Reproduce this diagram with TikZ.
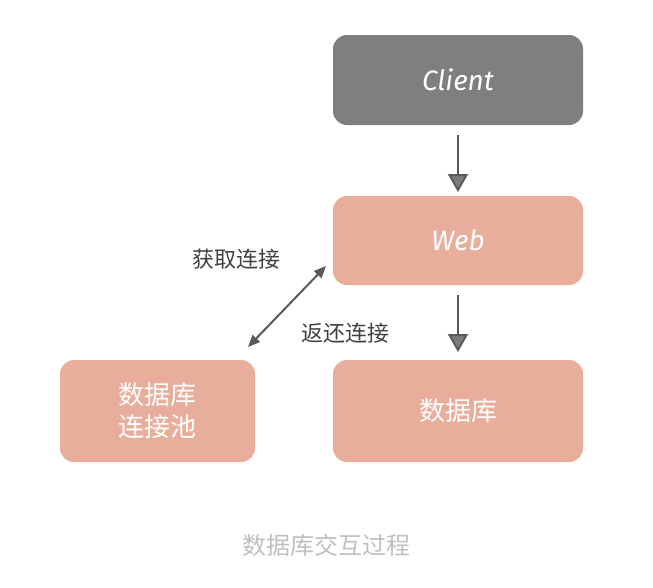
\documentclass[tikz,border=0pt]{standalone}
\usepackage{fontspec}
\newfontfamily\cjk{Noto Sans CJK SC}
\setmainfont{Fira Sans}
\usetikzlibrary{arrows.meta}
\definecolor{salmon}{HTML}{E8AE9B}
\definecolor{cgray}{HTML}{7F7F7F}
\definecolor{agray}{HTML}{5A5A5A}
\begin{document}
\begin{tikzpicture}[x=1pt,y=-1pt,
 box/.style={rounded corners=14pt,fill=salmon,draw=none,text=white,font=\cjk\fontsize{26}{32}\selectfont,align=center},
 arr/.style={draw=agray,line width=2pt,-{Triangle[length=18pt,width=20pt,fill=agray!80]}},
 lbl/.style={font=\cjk\fontsize{22}{26}\selectfont,text=black!75}]
\useasboundingbox (0,0) rectangle (653,587);
\node[box,fill=cgray,minimum width=250pt,minimum height=90pt,font=\fontsize{28}{32}\selectfont\itshape] (client) at (458,80) {Client};
\node[box,minimum width=250pt,minimum height=89pt,font=\fontsize{28}{32}\selectfont\itshape] (web) at (458,240.5) {Web};
\node[box,minimum width=250pt,minimum height=102pt] (db) at (458,411) {数据库};
\node[box,minimum width=195pt,minimum height=102pt] (pool) at (157.5,411) {数据库\\连接池};
\coordinate (c1) at (458,135); \coordinate (w1) at (458,192);
\draw[arr] (c1) -- (w1);
\coordinate (c2) at (458,295); \coordinate (w2) at (458,352);
\draw[arr] (c2) -- (w2);
\coordinate (p1) at (248,347); \coordinate (p2) at (326,266);
\draw[draw=agray,line width=2pt,{Triangle[length=12pt,width=10pt]}-{Triangle[length=12pt,width=10pt]}] (p1) -- (p2);
\node[lbl] (l1) at (236,259) {获取连接};
\node[lbl] (l2) at (345,333) {返还连接};
\node[font=\cjk\fontsize{24}{28}\selectfont,text=black!25] (cap) at (326,545) {数据库交互过程};
\end{tikzpicture}
\end{document}
